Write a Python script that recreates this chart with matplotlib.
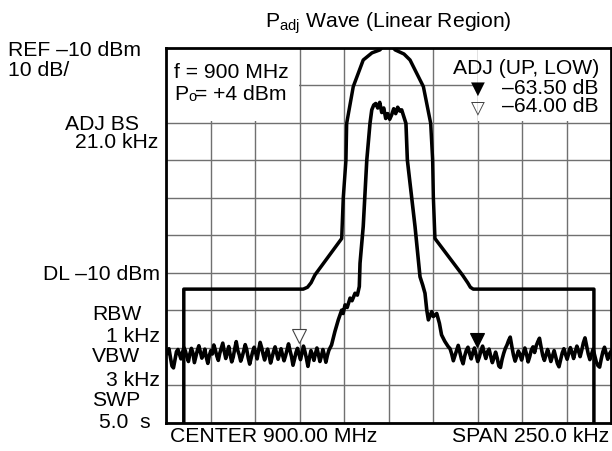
#! /usr/bin/env python3
""" Spectrum analyser screen: adjacent channel power of a modulated carrier. """

import matplotlib
matplotlib.use('Agg')
import matplotlib.pyplot as plt
import numpy as np
from matplotlib.patches import Rectangle

plt.rcParams['font.family'] = ['Liberation Sans', 'DejaVu Sans']
plt.rcParams['mathtext.fontset'] = 'custom'
plt.rcParams['mathtext.rm'] = 'Liberation Sans'

W, H = 612, 451
FS = 15.2

# screen: offset from 900 MHz in kHz, level in dBm
span_lim = (-125, 125)
level_lim = (-110, -10)

# spectrum mask (thick envelope)
mask_f = [-115, -115, -47.9, -45.5, -43.5, -41.3, -26.3, -25.4, -23.9, -23.5,
          -19.8, -14.2, -9.3, -4.8, -0.5, 3.7, 8.7, 12.1, 19.6, 23.7, 24.8,
          25.2, 26.1, 41.5, 44.5, 46.0, 47.6, 115.4, 115.4]
mask_db = [-112, -74.3, -74.3, -73.8, -72.6, -70.5, -60.8, -49.8, -39.9, -30.1,
           -20.3, -13.2, -11.3, -10.5, -8.0, -10.5, -11.6, -13.2, -20.3, -30.1,
           -39.9, -49.8, -60.8, -70.5, -72.6, -73.8, -74.3, -74.3, -112]

# measured trace, lower noise floor
floor_low_db = [
    -90.8, -91.5, -90.2, -92.6, -94.8, -95.3, -93.1, -91.0, -90.4, -91.7,
    -92.9, -91.2, -89.9, -90.8, -92.4, -93.6, -91.5, -90.1, -91.3, -93.9,
    -92.2, -90.6, -89.4, -91.1, -92.7, -91.8, -90.3, -92.5, -94.1, -92.0,
    -90.7, -91.6, -89.2, -90.5, -92.1, -93.3, -91.4, -90.0, -88.7, -90.9,
    -92.8, -91.1, -89.6, -91.9, -93.7, -92.4, -90.2, -88.3, -90.6, -91.8,
    -93.5, -92.3, -90.8, -89.1, -90.4, -92.6, -94.3, -92.7, -91.0, -89.8,
    -91.2, -92.9, -90.6, -88.5, -89.9, -91.7, -93.2, -91.5, -90.3, -92.0,
    -94.0, -92.5, -90.9, -89.7, -91.4, -93.0, -91.6, -90.2, -91.9, -93.4,
    -92.1, -90.5, -88.9, -90.7, -92.3, -94.6, -93.0, -91.2, -90.1, -91.6,
    -93.1, -91.4, -89.5, -91.0, -92.8, -94.9, -92.6, -90.7, -91.8, -93.3,
    -91.5, -90.0, -91.7, -93.6, -92.2, -90.4, -91.9, -93.8, -92.0, -90.6]
floor_low_f = np.linspace(-125, -33.5, len(floor_low_db))

rise_f = [-32.0, -30.1, -28.2, -26.3, -25.5, -24.4, -23.2, -21.6, -20.5, -18.8,
          -17.5, -16.4, -16.0, -14.2, -12.2, -10.4]
rise_db = [-89.2, -85.6, -82.5, -79.9, -80.8, -78.5, -79.2, -76.7, -77.4, -75.4,
           -75.9, -73.6, -67.4, -57.6, -39.9, -30.1]

top_db = [-26.5, -25.2, -24.8, -26.0, -24.5, -27.2, -26.0, -28.8, -27.5, -29.0,
          -27.8, -26.2, -27.5, -25.8, -26.8, -26.5]
top_f = np.linspace(-9.4, 7.4, len(top_db))

fall_f = [9.8, 10.6, 14.9, 17.7, 19.2, 20.5, 21.5, 22.4, 24.3, 25.2, 27.1, 28.6,
          29.8, 31.6, 33.5]
fall_db = [-30.1, -39.9, -57.6, -71.0, -73.2, -75.4, -79.9, -82.5, -80.3, -81.6,
           -80.8, -83.4, -86.5, -88.2, -89.6]

# measured trace, upper noise floor
floor_up_db = [
    -90.2, -91.6, -93.4, -92.0, -90.5, -89.3, -91.1, -93.0, -94.2, -92.1,
    -90.6, -89.8, -91.5, -92.9, -91.2, -90.0, -91.8, -93.6, -92.4, -90.7,
    -89.5, -91.3, -92.8, -91.0, -90.3, -92.2, -93.9, -92.6, -91.1, -92.7,
    -94.8, -95.2, -93.0, -91.4, -90.1, -89.2, -88.0, -87.1, -89.6, -91.9,
    -93.5, -92.2, -90.8, -91.7, -93.2, -91.5, -90.0, -91.6, -93.7, -92.3,
    -90.5, -89.7, -91.2, -89.4, -88.3, -87.4, -89.8, -92.0, -93.3, -91.8,
    -90.4, -91.9, -93.6, -92.1, -90.7, -92.4, -94.1, -95.0, -93.2, -91.3,
    -90.2, -91.7, -93.0, -91.4, -89.9, -91.2, -92.8, -91.0, -89.5, -90.8,
    -92.3, -90.6, -88.6, -87.3, -89.4, -91.6, -93.1, -91.7, -90.3, -92.0,
    -93.8, -94.7, -95.1, -92.9, -91.0, -89.8, -91.4, -93.0, -91.6, -90.9]
floor_up_f = np.linspace(34.6, 125, len(floor_up_db))

# adjacent channel markers (upper filled, lower hollow)
marker_f = [49.7, -50.2]
marker_db = [-88.0, -86.8]
marker_face = ['black', 'white']
marker_edge = ['black', '#444444']


def label(x, y, s, ha='left', size=FS, **kw):
    """Place text at pixel position (x, y) measured from top-left."""
    fig.text(x / W, 1 - y / H, s, ha=ha, va='center', fontsize=size, **kw)


fig = plt.figure(figsize=(W / 100, H / 100), dpi=100)
ax = fig.add_axes([166 / W, 1 - 423 / H, 445 / W, 375 / H])

ax.set_xlim(span_lim)
ax.set_ylim(level_lim)
ax.set_xticks(np.arange(-125, 126, 25))
ax.set_yticks(np.arange(-110, -9, 10))
ax.tick_params(length=0, labelbottom=False, labelleft=False)
ax.set_axisbelow(True)
ax.grid(True, color='#707070', lw=1.0)
for sp in ax.spines.values():
    sp.set_linewidth(2.0)

# white panels hiding the grid behind the annotation boxes
ax.add_patch(Rectangle((-125, -29.6), 74.6, 19.6, facecolor='white',
                       edgecolor='none', zorder=1))
ax.add_patch(Rectangle((50.4, -29.6), 74.6, 19.6, facecolor='white',
                       edgecolor='none', zorder=1))

ax.plot(mask_f, mask_db, color='black', lw=2.5, solid_joinstyle='round', zorder=3)

sig_f = np.concatenate([floor_low_f, rise_f, top_f, fall_f, floor_up_f])
sig_db = np.concatenate([floor_low_db, rise_db, top_db, fall_db, floor_up_db])
ax.plot(sig_f, sig_db, color='black', lw=2.6, solid_joinstyle='round', zorder=3)

for f, d, fc, ec in zip(marker_f, marker_db, marker_face, marker_edge):
    ax.plot(f, d, marker='v', ms=10.5, mfc=fc, mec=ec, mew=0.8, zorder=4)

# title and side annotations
label(388.5, 23, r'P$_{\mathregular{adj}}$ Wave (Linear Region)', ha='center')
label(8, 50, 'REF –10 dBm')
label(8, 70, '10 dB/')
label(65, 124, 'ADJ BS')
label(158, 143, '21.0 kHz', ha='right')
label(160, 275, 'DL –10 dBm', ha='right')
label(92, 315, 'RBW')
label(160, 336, '1 kHz', ha='right')
label(92, 357, 'VBW')
label(160, 380, '3 kHz', ha='right')
label(92, 400, 'SWP')
label(151, 423, '5.0  s', ha='right')

label(174, 73, 'f = 900 MHz')
label(174, 95, 'P')
label(188, 97, 'o', size=10.5)
label(195, 95, '= +4 dBm')
label(599, 68, 'ADJ (UP, LOW)', ha='right')
label(599, 89, '–63.50 dB', ha='right')
label(599, 107, '–64.00 dB', ha='right')
label(478, 89, '▼', ha='center', size=13, family='DejaVu Sans')
label(478, 108, '▽', ha='center', size=13, family='DejaVu Sans', color='#444444')

label(170, 437, 'CENTER 900.00 MHz')
label(609, 437, 'SPAN 250.0 kHz', ha='right')

fig.savefig('out.png', dpi=100)
